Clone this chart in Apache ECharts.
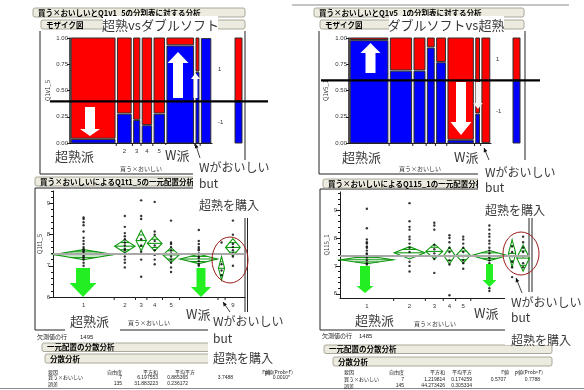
<!DOCTYPE html>
<html>
<head>
<meta charset="utf-8">
<script src="https://cdn.jsdelivr.net/npm/echarts@6.0.0/dist/echarts.min.js"></script>
<style>
html,body{margin:0;padding:0;background:#fff;}
#chart{width:584px;height:390px;}
</style>
</head>
<body>
<div id="chart"></div>
<script>
// ---- 買う×おいしい groups: row counts and share of response level "-1" (blue) ----
const leftCounts = [43, 15, 8, 11, 12, 27, 5, 11];
const leftBlueShare = [0.04, 0.28, 0.22, 0.17, 0.28, 0.93, 0.68, 1.00];
const rightCounts = [39, 23, 13, 9, 11, 27, 6, 10];
const rightBlueShare = [0.98, 0.69, 0.69, 0.91, 0.77, 0.03, 0.28, 0.00];
const responseLevels = ['1', '-1'];

// group tick labels shown under each plot
const leftMosaicTicks = ['1', '2', '3', '4', '5', '', '', ''];
const rightMosaicTicks = ['', '', '', '', '', '', '', ''];
const leftOnewayTicks = ['1', '2', '3', '4', '5', '', '', '9'];
const rightOnewayTicks = ['1', '2', '3', '4', '5', '', '', ''];
const onewayYTicks = [6, 7, 8, 9];

// one-way: group means and 95% CI half widths
const leftMeans = [7.36, 7.63, 7.81, 7.72, 7.35, 7.22, 6.92, 7.59];
const leftHalfCI = [0.16, 0.21, 0.33, 0.24, 0.24, 0.15, 0.38, 0.28];
const leftGrandMean = 7.39;
const rightMeans = [7.22, 7.47, 7.52, 7.37, 7.38, 7.37, 7.45, 7.28];
const rightHalfCI = [0.14, 0.22, 0.27, 0.30, 0.28, 0.18, 0.49, 0.47];
const rightGrandMean = 7.36;

// one-way: observations per group
const leftPoints = [
  [8.55, 8.5, 8.4, 8.3, 8.1, 7.9, 7.8, 7.7, 7.6, 7.55, 7.5, 7.45, 7.4, 7.35, 7.3, 7.25, 7.2, 7.1, 7.0, 6.9],
  [8.6, 8.25, 8.05, 7.95, 7.85, 7.75, 7.65, 7.55, 7.5, 7.4, 7.3, 7.2, 7.1, 6.95],
  [9.1, 8.6, 8.5, 7.85, 7.65, 7.45, 7.2, 6.65],
  [9.05, 8.1, 8.0, 7.8, 7.65, 7.5, 7.35, 7.2, 7.05],
  [8.45, 7.75, 7.7, 7.6, 7.5, 7.4, 7.3, 7.2, 7.1, 6.95, 6.8],
  [8.15, 7.8, 7.7, 7.6, 7.55, 7.5, 7.4, 7.3, 7.25, 7.15, 7.05, 7.0, 6.9],
  [7.75, 7.05, 6.85, 6.7],
  [8.45, 8.0, 7.7, 7.6, 7.5, 7.4, 7.3, 7.0]
];
const rightPoints = [
  [9.05, 8.35, 7.95, 7.85, 7.8, 7.7, 7.65, 7.55, 7.45, 7.4, 7.3, 7.2, 7.1, 7.05],
  [9.25, 8.6, 8.4, 8.3, 8.05, 7.95, 7.8, 7.65, 7.5, 7.35, 7.15, 7.0, 6.8],
  [8.55, 8.45, 8.3, 7.75, 7.6, 7.45, 7.25, 6.75],
  [8.1, 8.0, 7.85, 7.65, 7.5, 7.35, 7.2, 7.05, 5.95],
  [8.05, 7.95, 7.8, 7.65, 7.5, 7.35, 7.2, 7.1, 6.9],
  [8.45, 8.3, 8.15, 8.05, 7.9, 7.8, 7.65, 7.55, 7.45, 7.3, 7.2, 7.1, 6.95, 6.2, 6.1],
  [7.7, 7.5, 7.35, 7.15, 6.95, 6.6],
  [8.05, 7.85, 7.65, 7.5, 7.35, 7.1, 6.95]
];

// ANOVA tables
const anovaHeader = ['要因', '自由度', '平方和', '平均平方', 'F値', 'p値(Prob>F)'];
const leftAnovaRows = [
  ['買う×おいしい', '7', '6.197553', '0.885365', '3.7488', '0.0010*'],
  ['誤差', '135', '31.883223', '0.236172', '', '']
];
const rightAnovaRows = [
  ['買う×おいしい', '7', '1.219814', '0.174259', '0.5707', '0.7788'],
  ['誤差', '145', '44.273426', '0.305334', '', '']
];

// ---------------------------------------------------------------
const LAT = '"Liberation Sans", "Noto Sans CJK JP", sans-serif';
const JP = '"Noto Sans CJK JP", sans-serif';
const RED = '#ff0000', BLUE = '#0000ff', EDGE = '#303030';
const DIAMOND = '#129812';

function starts(counts) { const s = []; let a = 0; counts.forEach(c => { s.push(a); a += c; }); return s; }
function total(counts) { return counts.reduce((a, b) => a + b, 0); }
function overallShare(counts, share) { return counts.reduce((a, c, i) => a + c * share[i], 0) / total(counts); }

function txtStyle(text, font, fill, align, valign) {
  return { text, font, fill, textAlign: align, align, textVerticalAlign: valign, verticalAlign: valign };
}

function mosaicRenderer() {
  return (params, api) => {
    const x0 = api.value(0), x1 = api.value(1), s = api.value(2);
    const bl = api.coord([x0, 0]), tr = api.coord([x1, 1]), mid = api.coord([x0, s]);
    const left = bl[0] + 1.2, w = tr[0] - bl[0] - 2.4;
    const kids = [];
    if (s > 0) kids.push({ type: 'rect', shape: { x: left, y: mid[1] + 0.6, width: w, height: bl[1] - mid[1] - 0.6 }, style: { fill: BLUE, stroke: EDGE, lineWidth: 1 } });
    if (s < 1) kids.push({ type: 'rect', shape: { x: left, y: tr[1], width: w, height: mid[1] - tr[1] - 0.6 }, style: { fill: RED, stroke: EDGE, lineWidth: 1 } });
    return { type: 'group', children: kids };
  };
}

function marginalRenderer(levels, lineFrom, lineTo) {
  return (params, api) => {
    const s = api.value(0);
    const b = api.coord([0, 0]), t = api.coord([1, 1]), m = api.coord([0, s]);
    const w = t[0] - b[0];
    const lab = (text, y) => ({ type: 'text', x: b[0] - 17, y, style: txtStyle(text, '6px ' + LAT, '#333', 'left', 'middle') });
    return { type: 'group', children: [
      { type: 'rect', shape: { x: b[0], y: m[1] + 0.6, width: w, height: b[1] - m[1] - 0.6 }, style: { fill: BLUE, stroke: EDGE, lineWidth: 1 } },
      { type: 'rect', shape: { x: b[0], y: t[1], width: w, height: m[1] - t[1] - 0.6 }, style: { fill: RED, stroke: EDGE, lineWidth: 1 } },
      lab(levels[0], (t[1] + m[1]) / 2),
      lab(levels[1], (m[1] + b[1]) / 2),
      { type: 'line', shape: { x1: lineFrom, y1: m[1], x2: lineTo, y2: m[1] }, style: { stroke: '#000', lineWidth: 2.2 } }
    ] };
  };
}

function groupAxisRenderer(st, counts, labels, yBase) {
  return (params, api) => {
    const i = params.dataIndex;
    const e = api.coord([st[i] + counts[i], yBase]);
    const c = api.coord([st[i] + counts[i] / 2, yBase]);
    const kids = [];
    if (i < counts.length - 1) kids.push({ type: 'line', shape: { x1: e[0], y1: e[1], x2: e[0], y2: e[1] + 3 }, style: { stroke: '#222', lineWidth: 1 } });
    if (labels[i]) kids.push({ type: 'text', x: c[0], y: e[1] + 8, style: txtStyle(labels[i], '6px ' + LAT, '#333', 'center', 'middle') });
    return { type: 'group', children: kids };
  };
}

function diamondRenderer(st, counts) {
  return (params, api) => {
    const i = api.value(0), m = api.value(1), h = api.value(2);
    const xl = api.coord([st[i], m])[0] + 0.5;
    const xr = api.coord([st[i] + counts[i], m])[0] - 0.5;
    const yc = api.coord([0, m])[1], yt = api.coord([0, m + h])[1], yb = api.coord([0, m - h])[1];
    const xc = (xl + xr) / 2, hw = (xr - xl) / 2;
    const k = 0.55;
    const ot = api.coord([0, m + h * k])[1], ob = api.coord([0, m - h * k])[1];
    const ow = hw * (1 - k);
    const ls = { stroke: DIAMOND, lineWidth: 1.1, fill: 'none' };
    return { type: 'group', children: [
      { type: 'polygon', shape: { points: [[xl, yc], [xc, yt], [xr, yc], [xc, yb]] }, style: ls },
      { type: 'line', shape: { x1: xl, y1: yc, x2: xr, y2: yc }, style: ls },
      { type: 'line', shape: { x1: xc - ow, y1: ot, x2: xc + ow, y2: ot }, style: ls },
      { type: 'line', shape: { x1: xc - ow, y1: ob, x2: xc + ow, y2: ob }, style: ls }
    ] };
  };
}

const axisLineStyle = { color: '#1a1a1a', width: 1 };
const nameStyle = { fontSize: 6, color: '#333', fontFamily: JP };

function mosaicX(gi, counts) {
  return { type: 'value', gridIndex: gi, min: 0, max: total(counts), name: '買う×おいしい', nameLocation: 'middle', nameGap: 23, nameTextStyle: nameStyle,
    axisLine: { show: true, lineStyle: axisLineStyle }, axisTick: { show: false }, axisLabel: { show: false }, splitLine: { show: false } };
}
function mosaicY(gi, name, gap) {
  return { type: 'value', gridIndex: gi, position: 'left', min: 0, max: 1, interval: 0.25, name, nameLocation: 'middle', nameGap: gap, nameTextStyle: nameStyle,
    axisLine: { show: true, lineStyle: { color: '#1a1a1a', width: 1.5 } }, axisTick: { show: true, length: 3, lineStyle: axisLineStyle },
    axisLabel: { fontSize: 6, color: '#333', margin: 2, fontFamily: LAT, formatter: v => v.toFixed(2) }, splitLine: { show: false } };
}
function hiddenAxis(gi) { return { type: 'value', gridIndex: gi, min: 0, max: 1, show: false }; }
function onewayX(gi, max) {
  return { type: 'value', gridIndex: gi, min: 0, max, name: '買う×おいしい', nameLocation: 'middle', nameGap: 23, nameTextStyle: nameStyle,
    axisLine: { show: true, lineStyle: axisLineStyle }, axisTick: { show: false }, axisLabel: { show: false }, splitLine: { show: false } };
}
function onewayY(gi, min, max, name, gap) {
  const minor = [];
  for (let v = Math.ceil(min * 5) / 5; v <= max + 1e-9; v += 0.2) minor.push(+v.toFixed(1));
  return [
    { type: 'value', gridIndex: gi, position: 'left', min, max, name, nameLocation: 'middle', nameGap: gap, nameTextStyle: nameStyle,
      axisLine: { show: true, lineStyle: axisLineStyle }, axisTick: { show: true, length: 4, customValues: onewayYTicks, lineStyle: axisLineStyle },
      axisLabel: { customValues: onewayYTicks, fontSize: 6, color: '#333', margin: 3, fontFamily: LAT }, splitLine: { show: false } },
    { type: 'value', gridIndex: gi, position: 'left', offset: 0, min, max, axisLine: { show: false }, axisTick: { show: true, length: 2, customValues: minor, lineStyle: axisLineStyle },
      axisLabel: { show: false }, splitLine: { show: false } }
  ];
}

const lSt = starts(leftCounts), rSt = starts(rightCounts);
const lTotal = total(leftCounts), rTotal = total(rightCounts);

function pointData(st, counts, pts) {
  const out = [];
  pts.forEach((g, i) => g.forEach(v => out.push([st[i] + counts[i] / 2, v])));
  return out;
}

const series = [
  // mosaic plots
  { type: 'custom', xAxisIndex: 0, yAxisIndex: 0, renderItem: mosaicRenderer(), encode: { x: [0, 1], y: 2 }, z: 2,
    data: leftCounts.map((c, i) => [lSt[i], lSt[i] + c, leftBlueShare[i]]) },
  { type: 'custom', xAxisIndex: 0, yAxisIndex: 0, renderItem: groupAxisRenderer(lSt, leftCounts, leftMosaicTicks, 0), clip: false, z: 3,
    data: leftCounts.map((c, i) => [lSt[i] + c / 2, 0]) },
  { type: 'custom', xAxisIndex: 1, yAxisIndex: 1, renderItem: marginalRenderer(responseLevels, 50, 268), clip: false, z: 5,
    data: [[overallShare(leftCounts, leftBlueShare)]] },
  { type: 'custom', xAxisIndex: 2, yAxisIndex: 2, renderItem: mosaicRenderer(), encode: { x: [0, 1], y: 2 }, z: 2,
    data: rightCounts.map((c, i) => [rSt[i], rSt[i] + c, rightBlueShare[i]]) },
  { type: 'custom', xAxisIndex: 2, yAxisIndex: 2, renderItem: groupAxisRenderer(rSt, rightCounts, rightMosaicTicks, 0), clip: false, z: 3,
    data: rightCounts.map((c, i) => [rSt[i] + c / 2, 0]) },
  { type: 'custom', xAxisIndex: 3, yAxisIndex: 3, renderItem: marginalRenderer(responseLevels, 321, 540), clip: false, z: 5,
    data: [[overallShare(rightCounts, rightBlueShare)]] },
  // one-way plots
  { type: 'custom', xAxisIndex: 4, yAxisIndex: 4, renderItem: diamondRenderer(lSt, leftCounts), clip: false, z: 3,
    data: leftMeans.map((m, i) => [i, m, leftHalfCI[i]]) },
  { type: 'scatter', xAxisIndex: 4, yAxisIndex: 4, symbolSize: 2.4, itemStyle: { color: '#000' }, z: 4, silent: true,
    data: pointData(lSt, leftCounts, leftPoints),
    markLine: { silent: true, symbol: 'none', label: { show: false }, lineStyle: { color: '#a9a9a9', width: 2, type: 'solid' }, data: [{ yAxis: leftGrandMean }] } },
  { type: 'custom', xAxisIndex: 4, yAxisIndex: 4, renderItem: groupAxisRenderer(lSt, leftCounts, leftOnewayTicks, 6), clip: false, z: 3,
    data: leftCounts.map((c, i) => [lSt[i] + c / 2, 6]) },
  { type: 'custom', xAxisIndex: 5, yAxisIndex: 6, renderItem: diamondRenderer(rSt, rightCounts), clip: false, z: 3,
    data: rightMeans.map((m, i) => [i, m, rightHalfCI[i]]) },
  { type: 'scatter', xAxisIndex: 5, yAxisIndex: 6, symbolSize: 2.4, itemStyle: { color: '#000' }, z: 4, silent: true,
    data: pointData(rSt, rightCounts, rightPoints),
    markLine: { silent: true, symbol: 'none', label: { show: false }, lineStyle: { color: '#a9a9a9', width: 2, type: 'solid' }, data: [{ yAxis: rightGrandMean }] } },
  { type: 'custom', xAxisIndex: 5, yAxisIndex: 6, renderItem: groupAxisRenderer(rSt, rightCounts, rightOnewayTicks, 5.85), clip: false, z: 3,
    data: rightCounts.map((c, i) => [rSt[i] + c / 2, 5.85]) }
];

// ---- report frames, outline headers, annotations ----
const G = [];
function line(x1, y1, x2, y2, color, w, z) { G.push({ type: 'line', shape: { x1, y1, x2, y2 }, style: { stroke: color, lineWidth: w }, z: z || 1, silent: true }); }
function rect(x, y, w, h, fill, z) { G.push({ type: 'rect', shape: { x, y, width: w, height: h }, style: { fill }, z, silent: true }); }
function text(x, y, s, font, fill, align, z) { G.push({ type: 'text', x, y, style: txtStyle(s, font, fill || '#222', align || 'left', 'middle'), z: z || 20, silent: true }); }
function header(x, y, w, h, s) {
  G.push({ type: 'rect', shape: { x, y, width: w, height: h, r: 2 }, style: { fill: '#edebdf', stroke: '#aaa89a', lineWidth: 1 }, z: 8, silent: true });
  text(x + 5, y + h / 2 + 0.3, s, 'bold 7.5px ' + JP, '#000', 'left', 9);
}
function blockArrow(cx, y0, yNeck, yTip, sh, hh, fill, z) {
  G.push({ type: 'polygon', shape: { points: [[cx - sh, y0], [cx + sh, y0], [cx + sh, yNeck], [cx + hh, yNeck], [cx, yTip], [cx - hh, yNeck], [cx - sh, yNeck]] },
    style: { fill }, z: z || 40, silent: true });
}
function pointer(x1, y1, x2, y2) {
  line(x1, y1, x2, y2, '#111', 0.8, 60);
  const a = Math.atan2(y2 - y1, x2 - x1), L = 4, W = 2;
  const bx = x2 - L * Math.cos(a), by = y2 - L * Math.sin(a);
  G.push({ type: 'polygon', shape: { points: [[x2, y2], [bx + W * Math.sin(a), by - W * Math.cos(a)], [bx - W * Math.sin(a), by + W * Math.cos(a)]] }, style: { fill: '#111' }, z: 60, silent: true });
}

// page rules
line(292, 5, 569, 5, '#8a8a8a', 1, 1);
line(0, 388.5, 584, 388.5, '#8a8a8a', 1, 1);

// mosaic report frames
[[40, 31, 40, 174], [40, 174, 245, 174], [245, 31, 245, 174],
 [319, 31, 319, 174], [319, 174, 525, 174], [525, 31, 525, 174]].forEach(l => line(...l, '#222', 1, 1));
// one-way report frames
[[35, 188, 35, 330], [35, 188, 245, 188], [35, 330, 245, 330], [245, 188, 245, 330], [247.5, 188, 247.5, 330],
 [320, 189, 320, 330], [320, 189, 532, 189], [320, 330, 532, 330], [529, 189, 529, 330], [532, 189, 532, 330]].forEach(l => line(...l, '#222', 1, 1));

// outline headers
header(33, 8, 212, 9, '買う×おいしいとQ1v1_5の分割表に対する分析');
header(41, 20, 204, 9, 'モザイク図');
header(314, 8, 210, 9, '買う×おいしいとQ1v5_1の分割表に対する分析');
header(320, 20, 204, 9, 'モザイク図');
header(35, 177, 210, 9, '買う×おいしいによるQ1t1_5の一元配置分析');
header(323, 179, 202, 9, '買う×おいしいによるQ115_1の一元配置分析');
header(42, 343, 203, 8.5, '一元配置の分散分析');
header(45, 354, 200, 9, '分散分析');
header(324, 345, 228, 8.5, '一元配置の分散分析');
header(333, 357, 219, 9, '分散分析');

// missing rows and ANOVA tables
text(37, 337, '欠測値の行', '6px ' + JP, '#222');
text(80, 337, '1495', '6px ' + LAT, '#222');
text(322, 336, '欠測値の行', '6px ' + JP, '#222');
text(359, 336, '1485', '6px ' + LAT, '#222');
text(571, 335.5, '55', '6px ' + LAT, '#444');

function anovaTable(hx, hy, cols, rows) {
  anovaHeader.forEach((h, j) => text(hx[j], hy, h, '5px ' + JP, '#222', j === 0 ? 'left' : 'right'));
  rows.forEach((r, ri) => r.forEach((v, j) => { if (v) text(cols.x[j], cols.y[ri], v, '5px ' + (j === 0 ? JP : LAT), '#222', j === 0 ? 'left' : 'right'); }));
}
anovaTable([48, 122, 158, 195, 270, 293], 372, { x: [48, 122, 158, 188, 233, 290], y: [377.5, 384] }, leftAnovaRows);
anovaTable([344, 404, 445, 472, 509, 543], 372.5, { x: [344, 404, 445, 472, 506, 540], y: [379.5, 386] }, rightAnovaRows);

// white annotation panels
rect(193, 160, 99, 58, '#fff', 30);
rect(478, 160, 106, 58, '#fff', 30);
rect(208, 312, 84, 55, '#fff', 30);
rect(505, 292, 79, 53, '#fff', 30);
rect(103, 16, 115, 17, '#fff', 30);
rect(389, 16, 115, 17, '#fff', 30);
rect(52, 146, 48, 16, '#fff', 30);
rect(161, 145, 32, 16, '#fff', 30);
rect(338, 146, 46, 16, '#fff', 30);
rect(450, 146, 28, 16, '#fff', 30);
rect(65, 307, 55, 25, '#fff', 30);
rect(184, 306, 26, 15, '#fff', 30);
rect(351, 311, 45, 18, '#fff', 30);
rect(471, 305, 27, 15, '#fff', 30);

const big = '13px ' + JP, mid = '12px ' + JP, ink = '#383838';
text(160.5, 25, '超熟vsダブルソフト', big, ink, 'center', 50);
text(446, 25, 'ダブルソフトvs超熟', big, ink, 'center', 50);
text(55, 156.5, '超熟派', big, ink, 'left', 50);
text(165, 155.5, 'W派', big, ink, 'left', 50);
text(342, 157, '超熟派', big, ink, 'left', 50);
text(454, 157, 'W派', big, ink, 'left', 50);
text(70, 321, '超熟派', big, ink, 'left', 50);
text(186, 314, 'W派', big, ink, 'left', 50);
text(355, 320, '超熟派', big, ink, 'left', 50);
text(474, 313, 'W派', big, ink, 'left', 50);
[[199, [167, 183, 205.5]], [485, [172, 187, 210]], [213, [321, 338, 358]], [511, [302.5, 317.5, 340]]].forEach(([x, ys]) => {
  text(x, ys[0], 'Wがおいしい', mid, ink, 'left', 50);
  text(x, ys[1], 'but', mid, ink, 'left', 50);
  text(x, ys[2], '超熟を購入', mid, ink, 'left', 50);
});

// arrows inside the mosaic plots
blockArrow(90, 107, 129, 136, 5, 10, '#fff');
blockArrow(178, 98, 63, 52, 5, 10.5, '#fff');
blockArrow(195.5, 98, 79, 73, 2, 4.5, '#fff');
blockArrow(370.5, 73, 53, 43, 5, 10, '#fff');
blockArrow(461, 82, 122, 135, 5, 10.5, '#fff');
blockArrow(478, 82, 103, 109, 2.3, 4.7, '#f2f2f2');
// arrows in the one-way plots
blockArrow(83, 268, 283, 297, 7, 13.5, '#22ee22');
blockArrow(201, 268, 287, 297, 4.5, 10, '#22ee22');
blockArrow(365, 266, 286, 293, 5, 8.5, '#22ee22');
blockArrow(489.5, 264, 280, 287, 3.5, 7, '#22ee22');
// circled groups
G.push({ type: 'ellipse', shape: { cx: 230, cy: 260, rx: 18, ry: 23 }, style: { fill: 'none', stroke: '#9b1c1c', lineWidth: 1 }, z: 45, silent: true });
G.push({ type: 'ellipse', shape: { cx: 521, cy: 253.5, rx: 18, ry: 21.5 }, style: { fill: 'none', stroke: '#9b1c1c', lineWidth: 1 }, z: 45, silent: true });
// pointers
pointer(200, 158, 195.5, 144);
pointer(489, 160, 484, 148);
pointer(230, 312, 223, 302);
pointer(522, 293, 516, 278);

const chart = echarts.init(document.getElementById('chart'), null, { renderer: 'canvas' });
chart.setOption({
  animation: false,
  backgroundColor: '#fff',
  textStyle: { fontFamily: LAT },
  grid: [
    { left: 70, top: 38, width: 142, height: 105 },
    { left: 235, top: 38, width: 7, height: 105 },
    { left: 349, top: 38, width: 142, height: 105 },
    { left: 513, top: 38, width: 7, height: 105 },
    { left: 53, top: 191, width: 192, height: 106 },
    { left: 340, top: 192, width: 190, height: 106 }
  ],
  xAxis: [
    mosaicX(0, leftCounts), hiddenAxis(1), mosaicX(2, rightCounts), hiddenAxis(3),
    onewayX(4, lTotal + 3), onewayX(5, rTotal)
  ],
  yAxis: [
    mosaicY(0, 'Q1v1_5', 19), hiddenAxis(1), mosaicY(2, 'Q1v5_1', 20), hiddenAxis(3),
    ...onewayY(4, 6, 9.4, 'Q1t1_5', 8), ...onewayY(5, 5.85, 9.65, 'Q115_1', 10)
  ],
  series,
  graphic: { elements: G }
});
</script>
</body>
</html>
